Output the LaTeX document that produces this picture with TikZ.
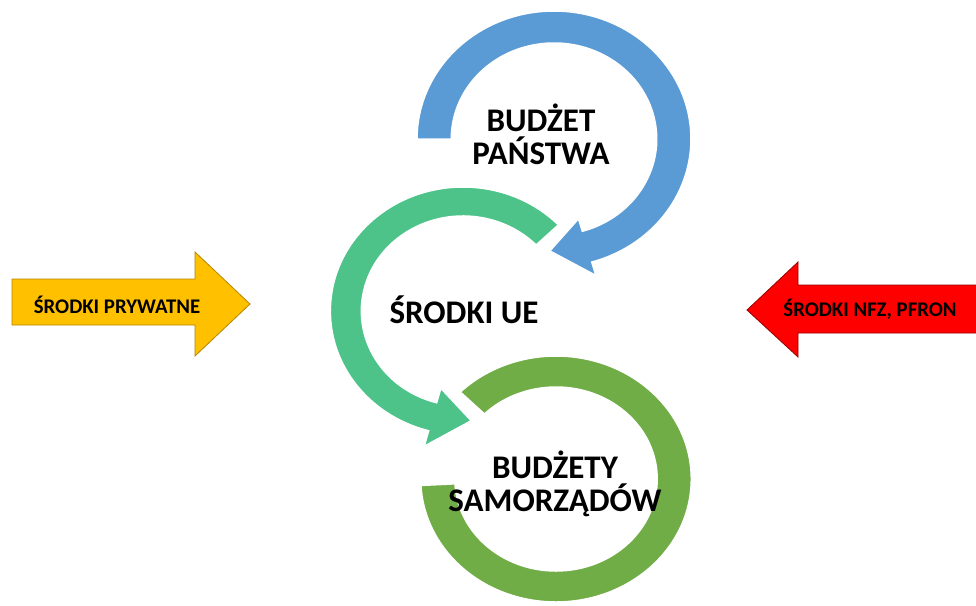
\documentclass[tikz,border=0pt]{standalone}
\usepackage{fontspec}
\setmainfont{Carlito}
\definecolor{blueArc}{HTML}{5B9BD5}
\definecolor{tealArc}{HTML}{4DC38A}
\definecolor{greenArc}{HTML}{70AD47}
\definecolor{yellowArr}{HTML}{FFC000}
\definecolor{redArr}{HTML}{FF0000}

\begin{document}
\begin{tikzpicture}[x=1pt,y=-1pt,
    lbl/.style={font=\bfseries\fontsize{33}{33}\selectfont,align=center,inner sep=0pt},
    small/.style={font=\bfseries\fontsize{20.8}{24}\selectfont,inner sep=0pt},
    band/.style={draw=white,line width=1.5pt,line join=miter}]
  \useasboundingbox (0,0) rectangle (976,605);
  % bottom ring
  \begin{scope}[shift={(556,479)},xscale=1.1]
    \filldraw[band,fill=greenArc] (225:92) -- (225:123) arc[start angle=225,end angle=537,radius=123]
      -- (537:92) arc[start angle=537,end angle=225,radius=92] -- cycle;
  \end{scope}
  % middle arrow
  \begin{scope}[shift={(463,311)},xscale=1.07]
    \filldraw[band,fill=tealArc] (-44:95) -- (-44:124) arc[start angle=-44,end angle=-255,radius=124]
      -- (-255:140) -- (-274:110) -- (-255:80) -- (-255:95)
      arc[start angle=-255,end angle=-44,radius=95] -- cycle;
  \end{scope}
  % top arrow
  \begin{scope}[shift={(554,139)},xscale=1.07]
    \filldraw[band,fill=blueArc] (180:96) -- (180:128) arc[start angle=180,end angle=434,radius=128]
      -- (434:142) -- (452:112) -- (434:83) -- (434:96)
      arc[start angle=434,end angle=180,radius=96] -- cycle;
  \end{scope}
  % side arrows
  \filldraw[fill=yellowArr,draw=yellowArr!70!black,line width=0.8pt]
    (12,279) -- (195,279) -- (195,252) -- (250,304) -- (195,356) -- (195,325) -- (12,325) -- cycle;
  \filldraw[fill=redArr,draw=redArr!60!black,line width=0.8pt]
    (982,285) -- (798,285) -- (798,262) -- (747,310) -- (798,357) -- (798,333) -- (982,333) -- cycle;

  \node[lbl] (budzet) at (541,134) {BUDŻET\\PAŃSTWA};
  \node[lbl] (ue) at (464,310) {ŚRODKI UE};
  \node[lbl] (samorzady) at (555,484) {BUDŻETY\\SAMORZĄDÓW};
  \node[small] (prywatne) at (117,305) {ŚRODKI PRYWATNE};
  \node[small] (nfz) at (870,309) {ŚRODKI NFZ, PFRON};
\end{tikzpicture}
\end{document}
